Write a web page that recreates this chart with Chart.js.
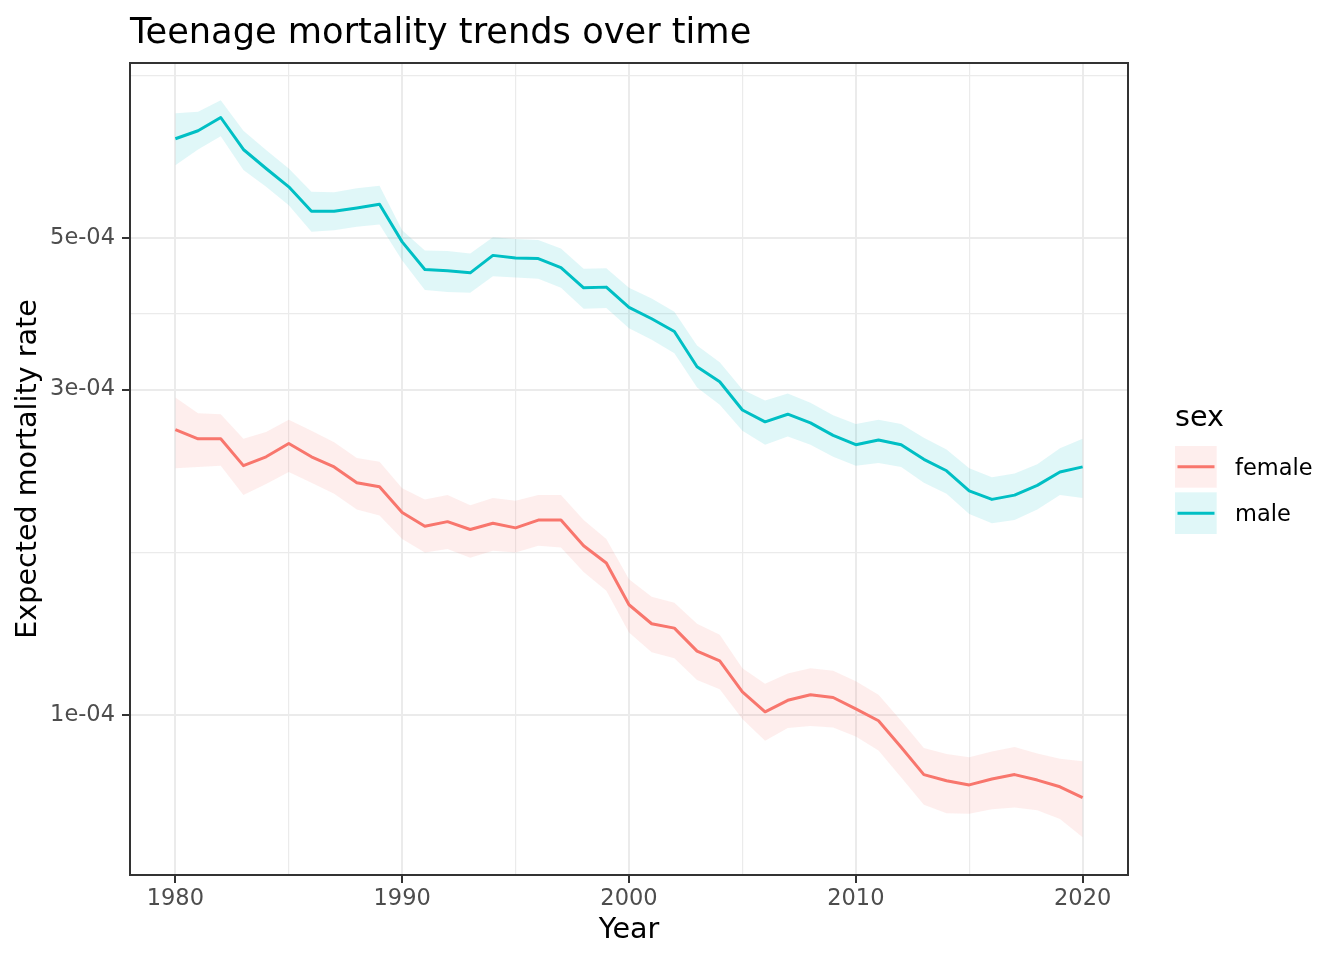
<!DOCTYPE html>
<html>
<head>
<meta charset="utf-8">
<title>Teenage mortality trends over time</title>
<script src="https://cdn.jsdelivr.net/npm/chart.js@4.4.0/dist/chart.umd.min.js"></script>
<style>
  html, body { margin: 0; padding: 0; background: #ffffff; }
  #wrap { width: 1344px; height: 960px; }
</style>
</head>
<body>
<div id="wrap"><canvas id="mortalityChart" width="1344" height="960"></canvas></div>
<script>
// values, in units of 1e-4
const UNIT = 1e-4;

const years = [
  1980, 1981, 1982, 1983, 1984, 1985, 1986, 1987, 1988, 1989,
  1990, 1991, 1992, 1993, 1994, 1995, 1996, 1997, 1998, 1999,
  2000, 2001, 2002, 2003, 2004, 2005, 2006, 2007, 2008, 2009,
  2010, 2011, 2012, 2013, 2014, 2015, 2016, 2017, 2018, 2019, 2020
];

const femaleRate = [
  2.62, 2.54, 2.54, 2.32, 2.39, 2.50, 2.39, 2.31, 2.19, 2.16,
  1.98, 1.89, 1.92, 1.87, 1.91, 1.88, 1.93, 1.93, 1.77, 1.67,
  1.45, 1.36, 1.34, 1.24, 1.20, 1.08, 1.01, 1.05, 1.07, 1.06,
  1.02, 0.98, 0.896, 0.817, 0.80, 0.789, 0.805, 0.817, 0.802, 0.784, 0.756
];
const femaleLower = [
  2.30, 2.31, 2.32, 2.10, 2.18, 2.27, 2.19, 2.11, 2.00, 1.96,
  1.81, 1.73, 1.75, 1.70, 1.74, 1.73, 1.77, 1.76, 1.62, 1.52,
  1.32, 1.235, 1.21, 1.125, 1.09, 0.986, 0.916, 0.956, 0.963, 0.958,
  0.929, 0.886, 0.809, 0.738, 0.717, 0.716, 0.727, 0.731, 0.724, 0.703, 0.661
];
const femaleUpper = [
  2.92, 2.77, 2.76, 2.54, 2.60, 2.71, 2.61, 2.51, 2.38, 2.35,
  2.15, 2.07, 2.10, 2.03, 2.08, 2.06, 2.10, 2.10, 1.93, 1.81,
  1.58, 1.49, 1.46, 1.36, 1.31, 1.17, 1.11, 1.15, 1.17, 1.16,
  1.12, 1.07, 0.98, 0.894, 0.876, 0.866, 0.883, 0.897, 0.877, 0.862, 0.855
];

const maleRate = [
  7.00, 7.19, 7.52, 6.75, 6.33, 5.95, 5.48, 5.48, 5.54, 5.61,
  4.94, 4.50, 4.48, 4.45, 4.72, 4.68, 4.67, 4.53, 4.23, 4.24,
  3.96, 3.81, 3.65, 3.24, 3.08, 2.80, 2.69, 2.76, 2.68, 2.57,
  2.49, 2.53, 2.49, 2.37, 2.28, 2.13, 2.07, 2.10, 2.17, 2.27, 2.31
];
const maleLower = [
  6.40, 6.75, 7.06, 6.30, 5.95, 5.59, 5.11, 5.14, 5.20, 5.24,
  4.64, 4.20, 4.17, 4.16, 4.40, 4.38, 4.36, 4.23, 3.94, 3.95,
  3.69, 3.55, 3.39, 3.02, 2.85, 2.61, 2.49, 2.56, 2.49, 2.39,
  2.32, 2.34, 2.31, 2.19, 2.11, 1.97, 1.91, 1.93, 2.00, 2.10, 2.08
];
const maleUpper = [
  7.63, 7.67, 7.97, 7.19, 6.74, 6.33, 5.85, 5.84, 5.92, 5.97,
  5.14, 4.80, 4.79, 4.75, 5.02, 4.99, 4.97, 4.83, 4.51, 4.52,
  4.23, 4.08, 3.90, 3.48, 3.29, 3.00, 2.89, 2.96, 2.87, 2.75,
  2.67, 2.71, 2.67, 2.55, 2.45, 2.30, 2.23, 2.26, 2.33, 2.46, 2.54
];

const seriesNames = ['female', 'male'];
const lineColors = ['#F8766D', '#00BFC4'];
const bandColors = ['rgba(248, 118, 109, 0.12)', 'rgba(0, 191, 196, 0.12)'];

const xMajorTicks = [1980, 1990, 2000, 2010, 2020];
const xMinorTicks = [1985, 1995, 2005, 2015];
const yMajorTicks = [1e-4, 3e-4, 5e-4];
const yTickLabels = ['1e-04', '3e-04', '5e-04'];
const yMinorTicks = [1.732e-4, 3.873e-4, 8.66e-4];

const chartTitle = 'Teenage mortality trends over time';
const xTitle = 'Year';
const yTitle = 'Expected mortality rate';
const legendTitle = 'sex';

const FONT = '"DejaVu Sans", "Liberation Sans", sans-serif';

const toPoints = arr => years.map((yr, i) => ({x: yr, y: arr[i] * UNIT}));

const isMajorX = v => xMajorTicks.includes(v);
const isMajorY = v => yMajorTicks.some(m => Math.abs(m - v) < 1e-9);

const bandSet = (arr, idx, fill) => ({
  data: toPoints(arr),
  borderWidth: 0,
  pointRadius: 0,
  backgroundColor: bandColors[idx],
  fill: fill,
  order: 2
});
const lineSet = (arr, idx) => ({
  label: seriesNames[idx],
  data: toPoints(arr),
  borderColor: lineColors[idx],
  borderWidth: 3,
  borderJoinStyle: 'round',
  pointRadius: 0,
  fill: false,
  tension: 0,
  order: 1
});

const panelAndLegend = {
  id: 'panelAndLegend',
  afterDraw(chart) {
    const {ctx, chartArea: a} = chart;
    ctx.save();
    // panel border
    ctx.strokeStyle = '#333333';
    ctx.lineWidth = 2;
    ctx.strokeRect(a.left, a.top, a.right - a.left, a.bottom - a.top);

    // title
    ctx.fillStyle = '#000000';
    ctx.font = '35.2px ' + FONT;
    ctx.textAlign = 'left';
    ctx.textBaseline = 'alphabetic';
    ctx.fillText(chartTitle, a.left, 42.5);

    // legend
    const kx = a.right + 47;
    ctx.font = '28.6px ' + FONT;
    ctx.fillText(legendTitle, kx, 426);
    ctx.font = '22.5px ' + FONT;
    seriesNames.forEach((name, i) => {
      const ky = 446 + i * 46.3;
      ctx.fillStyle = '#ffffff';
      ctx.fillRect(kx, ky, 41.7, 41.7);
      ctx.fillStyle = bandColors[i];
      ctx.fillRect(kx, ky, 41.7, 41.7);
      ctx.strokeStyle = lineColors[i];
      ctx.lineWidth = 3;
      ctx.beginPath();
      ctx.moveTo(kx + 2.5, ky + 20.85);
      ctx.lineTo(kx + 39.5, ky + 20.85);
      ctx.stroke();
      ctx.fillStyle = '#000000';
      ctx.fillText(name, kx + 60, ky + 29);
    });
    ctx.restore();
  }
};

const ctx = document.getElementById('mortalityChart').getContext('2d');

const config = {
  type: 'line',
  data: {
    datasets: [
      bandSet(femaleUpper, 0, '+1'),
      bandSet(femaleLower, 0, false),
      bandSet(maleUpper, 1, '+1'),
      bandSet(maleLower, 1, false),
      lineSet(femaleRate, 0),
      lineSet(maleRate, 1)
    ]
  },
  options: {
    responsive: false,
    animation: false,
    devicePixelRatio: 1,
    layout: {padding: {top: 63, right: 216, bottom: 0, left: 0}},
    plugins: {
      legend: {display: false},
      title: {display: false},
      tooltip: {enabled: false}
    },
    scales: {
      x: {
        type: 'linear',
        min: 1978,
        max: 2022,
        bounds: 'data',
        afterBuildTicks: s => {
          s.ticks = [...xMajorTicks, ...xMinorTicks].sort((p, q) => p - q).map(v => ({value: v}));
        },
        afterFit: s => { s.height = 85; },
        border: {display: false},
        grid: {
          color: '#EBEBEB',
          lineWidth: c => isMajorX(c.tick.value) ? 2 : 1.2,
          tickColor: c => isMajorX(c.tick.value) ? '#333333' : 'rgba(0,0,0,0)',
          tickWidth: 2,
          tickLength: 8
        },
        ticks: {
          autoSkip: false,
          maxRotation: 0,
          padding: 2.5,
          color: '#4D4D4D',
          font: {family: FONT, size: 22.5},
          callback: v => isMajorX(v) ? String(v) : ''
        },
        title: {
          display: true,
          text: xTitle,
          color: '#000000',
          font: {family: FONT, size: 28.6},
          padding: {top: 0, bottom: 12}
        }
      },
      y: {
        type: 'logarithmic',
        min: 5.82e-5,
        max: 9.04e-4,
        bounds: 'data',
        afterBuildTicks: s => {
          s.ticks = [...yMajorTicks, ...yMinorTicks].sort((p, q) => p - q).map(v => ({value: v}));
        },
        afterFit: s => { s.width = 130; },
        border: {display: false},
        grid: {
          color: '#EBEBEB',
          lineWidth: c => isMajorY(c.tick.value) ? 2 : 1.2,
          tickColor: c => isMajorY(c.tick.value) ? '#333333' : 'rgba(0,0,0,0)',
          tickWidth: 2,
          tickLength: 8
        },
        ticks: {
          autoSkip: false,
          padding: 7,
          color: '#4D4D4D',
          font: {family: FONT, size: 22.5},
          callback: v => {
            const k = yMajorTicks.findIndex(m => Math.abs(m - v) < 1e-9);
            return k >= 0 ? yTickLabels[k] : '';
          }
        },
        title: {
          display: true,
          text: yTitle,
          color: '#000000',
          font: {family: FONT, size: 28.6},
          padding: {top: 11, bottom: 0}
        }
      }
    }
  },
  plugins: [panelAndLegend]
};

const mortalityChart = new Chart(ctx, config);
</script>
</body>
</html>
